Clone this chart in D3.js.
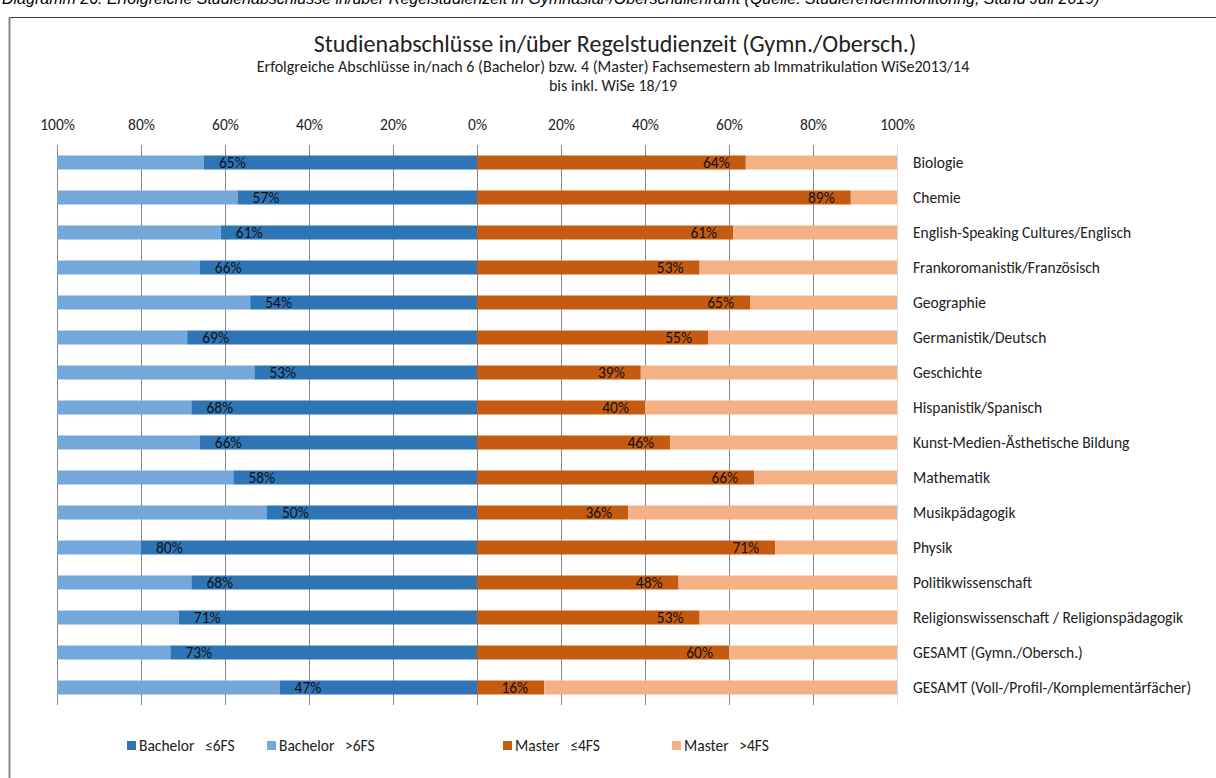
<!DOCTYPE html>
<html>
<head>
<meta charset="utf-8">
<script src="https://cdn.jsdelivr.net/npm/d3@7"></script>
<style>
  body { margin: 0; background: #fff; }
  svg { display: block; font-family: Carlito, Calibri, Lato, sans-serif; }
  text { white-space: pre; }
</style>
</head>
<body>
<div id="chart"></div>
<script>
// Data
const categories = [
  "Biologie", "Chemie", "English-Speaking Cultures/Englisch", "Frankoromanistik/Französisch",
  "Geographie", "Germanistik/Deutsch", "Geschichte", "Hispanistik/Spanisch",
  "Kunst-Medien-Ästhetische Bildung", "Mathematik", "Musikpädagogik", "Physik",
  "Politikwissenschaft", "Religionswissenschaft / Religionspädagogik",
  "GESAMT (Gymn./Obersch.)", "GESAMT (Voll-/Profil-/Komplementärfächer)"
];
const bachelorIn = [65, 57, 61, 66, 54, 69, 53, 68, 66, 58, 50, 80, 68, 71, 73, 47];
const masterIn   = [64, 89, 61, 53, 65, 55, 39, 40, 46, 66, 36, 71, 48, 53, 60, 16];
const tickValues = [0, 20, 40, 60, 80, 100];
const legendLabels = ["Bachelor   \u22646FS", "Bachelor   >6FS", "Master   \u22644FS", "Master   >4FS"];
const colors = ["#2E75B6", "#75A8DA", "#C55A11", "#F4B183"];

const W = 1216, H = 778;
const svg = d3.select("#chart").append("svg").attr("width", W).attr("height", H);

// caption above the frame (cut off at the top like in the source)
svg.append("text")
  .attr("x", 2).attr("y", 4)
  .attr("font-family", "Liberation Sans, Arial, sans-serif")
  .attr("font-style", "italic")
  .attr("font-size", 16)
  .text("Diagramm 26: Erfolgreiche Studienabschlüsse in/über Regelstudienzeit in Gymnasial-/Oberschullehramt (Quelle: Studierendenmonitoring, Stand Juli 2019)");

// frame
svg.append("line").attr("x1", 9).attr("x2", W).attr("y1", 17.5).attr("y2", 17.5)
  .attr("stroke", "#333").attr("stroke-width", 1);
svg.append("line").attr("x1", 9.5).attr("x2", 9.5).attr("y1", 17).attr("y2", H)
  .attr("stroke", "#888").attr("stroke-width", 2);

// titles
svg.append("text").attr("x", 615).attr("y", 52).attr("text-anchor", "middle")
  .attr("font-size", 24).attr("fill", "#222")
  .text("Studienabschlüsse in/über Regelstudienzeit (Gymn./Obersch.)");
svg.append("text").attr("x", 613).attr("y", 72).attr("text-anchor", "middle")
  .attr("font-size", 16).attr("fill", "#222")
  .text("Erfolgreiche Abschlüsse in/nach 6 (Bachelor) bzw. 4 (Master) Fachsemestern ab Immatrikulation WiSe2013/14");
svg.append("text").attr("x", 613).attr("y", 91).attr("text-anchor", "middle")
  .attr("font-size", 16).attr("fill", "#222")
  .text("bis inkl. WiSe 18/19");

// scales: left half is bachelor (reversed), right half master
const xL = d3.scaleLinear().domain([100, 0]).range([57, 477]);
const xR = d3.scaleLinear().domain([0, 100]).range([477, 897]);
const y = d3.scaleBand().domain(categories).range([145, 705]).paddingInner(0.6).paddingOuter(0.3);

// gridlines
const grid = svg.append("g");
tickValues.forEach(t => {
  [["L", xL(t)], ["R", xR(t)]].forEach(([side, x]) => {
    grid.append("line").attr("x1", x + 0.5).attr("x2", x + 0.5).attr("y1", 145).attr("y2", 705)
      .attr("stroke", side === "R" && t === 100 ? "#d9d9d9" : "#888").attr("stroke-width", 1);
  });
});

// top tick labels
const fmt = d => d + "%";
svg.append("g").attr("transform", "translate(0,133)")
  .call(d3.axisTop(xL).tickValues(tickValues).tickFormat(fmt).tickSize(0))
  .call(g => g.select(".domain").remove());
svg.append("g").attr("transform", "translate(0,133)")
  .call(d3.axisTop(xR).tickValues(tickValues.filter(d => d > 0)).tickFormat(fmt).tickSize(0))
  .call(g => g.select(".domain").remove());
svg.selectAll(".tick text").attr("font-size", 15.5).attr("fill", "#222")
  .attr("font-family", "Carlito, Calibri, Lato, sans-serif");

const rows = categories.map((c, i) => ({ c, b: bachelorIn[i], m: masterIn[i] }));
const bars = svg.append("g");
const bh = y.bandwidth();

// Bachelor >6FS (rest) and <=6FS
bars.selectAll(".bOut").data(rows).join("rect")
  .attr("x", xL(100)).attr("y", d => y(d.c)).attr("height", bh)
  .attr("width", d => xL(d.b) - xL(100)).attr("fill", colors[1]);
bars.selectAll(".bIn").data(rows).join("rect")
  .attr("x", d => xL(d.b)).attr("y", d => y(d.c)).attr("height", bh)
  .attr("width", d => xL(0) - xL(d.b)).attr("fill", colors[0]);
// Master <=4FS and >4FS
bars.selectAll(".mIn").data(rows).join("rect")
  .attr("x", xR(0)).attr("y", d => y(d.c)).attr("height", bh)
  .attr("width", d => xR(d.m) - xR(0)).attr("fill", colors[2]);
bars.selectAll(".mOut").data(rows).join("rect")
  .attr("x", d => xR(d.m)).attr("y", d => y(d.c)).attr("height", bh)
  .attr("width", d => xR(100) - xR(d.m)).attr("fill", colors[3]);

// value labels near the inside end of the dark segments
bars.selectAll(".bLab").data(rows).join("text")
  .attr("x", d => xL(d.b) + 15).attr("y", d => y(d.c) + bh / 2 + 5.5)
  .attr("font-size", 15.5).attr("fill", "#111").text(d => d.b + "%");
bars.selectAll(".mLab").data(rows).join("text")
  .attr("x", d => xR(d.m) - 16).attr("y", d => y(d.c) + bh / 2 + 5.5)
  .attr("text-anchor", "end")
  .attr("font-size", 15.5).attr("fill", "#111").text(d => d.m + "%");

// category labels on the right
svg.append("g").selectAll("text").data(categories).join("text")
  .attr("x", 913).attr("y", d => y(d) + bh / 2 + 5.5)
  .attr("font-size", 15.5).attr("fill", "#222").text(d => d);

// legend
const legX = [127, 267, 503, 672];
const leg = svg.append("g");
legendLabels.forEach((l, i) => {
  leg.append("rect").attr("x", legX[i]).attr("y", 741).attr("width", 9).attr("height", 9).attr("fill", colors[i]);
  leg.append("text").attr("x", legX[i] + 12).attr("y", 751).attr("font-size", 15.5).attr("fill", "#222").text(l);
});
</script>
</body>
</html>
